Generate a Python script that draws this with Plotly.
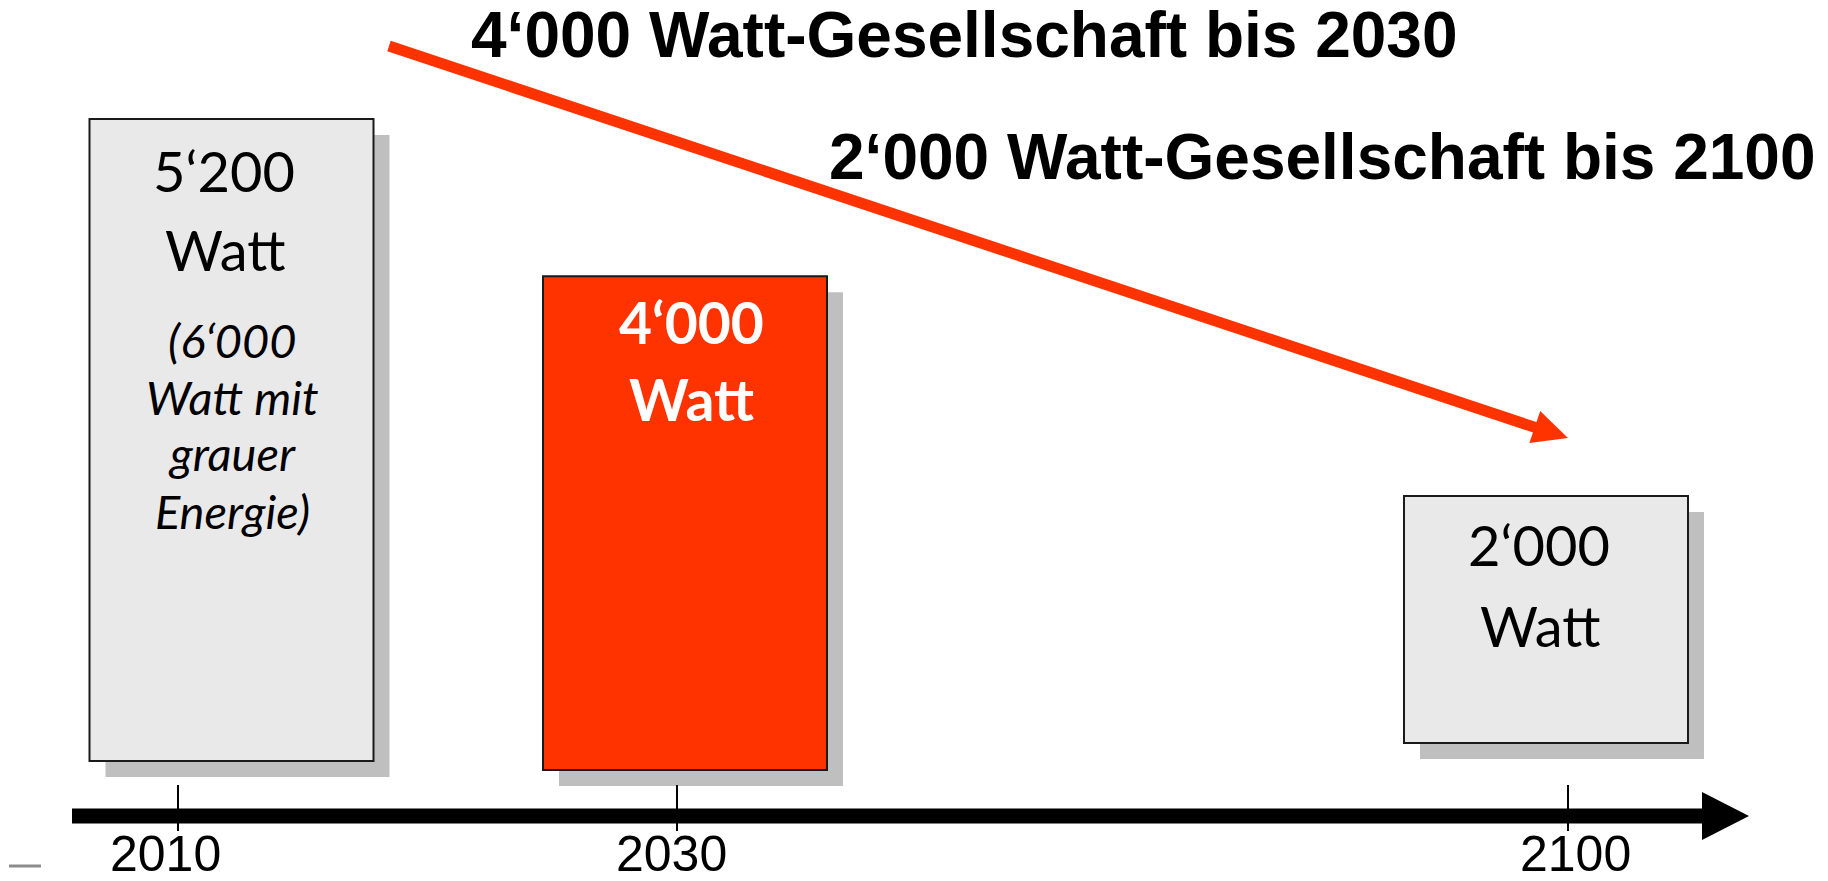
import plotly.graph_objects as go

# ---------------- data ----------------
years = ["2010", "2030", "2100"]
watts = [5200, 4000, 2000]
value_lines = ["5‘200", "4‘000", "2‘000"]
unit_label = "Watt"
note_lines = ["(6‘000", "Watt mit", "grauer", "Energie)"]
titles = ["4‘000 Watt-Gesellschaft bis 2030", "2‘000 Watt-Gesellschaft bis 2100"]
tick_labels = ["2010", "2030", "2100"]

# ---------------- layout constants (pixels of the 1828x881 canvas) ----------------
W, H = 1828, 881
K = 0.12346                 # px per Watt (vertical scale)
AXIS_PX = 816               # vertical pixel of the timeline (Watt 0 reference)
bar_x = [231.5, 685, 1546]  # bar centres (x axis in px units)
bar_w = 284
bar_bottom_px = [761, 770, 743]
shadow_dx = 16
shadow_dy = 16
tick_x = [178, 677, 1568]
tick_label_x = [165, 671, 1575]
TICK_LABEL_Y = 854

fill_cols = ["#E9E9E9", "#FF3300", "#E9E9E9"]
text_cols = ["black", "white", "black"]
RED = "#FF3300"


def w_of(px):
    return (AXIS_PX - px) / K


def fx(px):
    return px / W


def fy(px):
    return 1 - px / H


bases = [w_of(b) for b in bar_bottom_px]

fig = go.Figure()

# shadows
fig.add_trace(go.Bar(
    x=[x + shadow_dx for x in bar_x], y=watts,
    base=[b - shadow_dy / K for b in bases],
    width=bar_w, marker=dict(color="#BFBFBF", line=dict(width=0)),
    hoverinfo="skip", showlegend=False))

# boxes
fig.add_trace(go.Bar(
    x=bar_x, y=watts, base=bases, width=bar_w,
    marker=dict(color=fill_cols, line=dict(color="#1a1a1a", width=2)),
    customdata=years, hovertemplate="%{customdata}: %{y} W<extra></extra>",
    showlegend=False))

shapes = []
# timeline arrow
shapes.append(dict(type="line", xref="paper", yref="paper",
                   x0=fx(72), x1=fx(1706), y0=fy(AXIS_PX), y1=fy(AXIS_PX),
                   line=dict(color="black", width=15)))
shapes.append(dict(type="path", xref="paper", yref="paper",
                   path=f"M {fx(1702)},{fy(792)} L {fx(1749)},{fy(AXIS_PX)} L {fx(1702)},{fy(840)} Z",
                   fillcolor="black", line=dict(width=0)))
# little grey dash
shapes.append(dict(type="line", xref="paper", yref="paper",
                   x0=fx(9), x1=fx(41), y0=fy(866), y1=fy(866),
                   line=dict(color="#8C8C8C", width=3)))
# red trend arrow
shapes.append(dict(type="line", xref="paper", yref="paper",
                   x0=fx(389), y0=fy(46), x1=fx(1540), y1=fy(429),
                   line=dict(color=RED, width=11)))
shapes.append(dict(type="path", xref="paper", yref="paper",
                   path=f"M {fx(1568)},{fy(438)} L {fx(1540.2)},{fy(410.9)} L {fx(1529.4)},{fy(443.1)} Z",
                   fillcolor=RED, line=dict(width=0)))

ann = []


def add_text(txt, x, y, size, family, color="black", bold=False, italic=False):
    t = txt
    if bold:
        t = f"<b>{t}</b>"
    if italic:
        t = f"<i>{t}</i>"
    ann.append(dict(text=t, x=fx(x), y=fy(y), xref="paper", yref="paper",
                    xanchor="center", yanchor="middle", showarrow=False,
                    font=dict(size=size, family=family, color=color)))


BOX_FONT = "Lato, Carlito, Calibri, sans-serif"
TITLE_FONT = "Liberation Sans, Arial, sans-serif"

# box 1
add_text(value_lines[0], 224, 171, 56, BOX_FONT, text_cols[0])
add_text(unit_label, 225, 249, 56, BOX_FONT, text_cols[0])
note_y = [340, 397, 453, 511]
for line, y in zip(note_lines, note_y):
    add_text(line, 232, y, 47, BOX_FONT, text_cols[0], italic=True)
# box 2
add_text(value_lines[1], 691, 322, 57, BOX_FONT, text_cols[1], bold=True)
add_text(unit_label, 691, 399, 57, BOX_FONT, text_cols[1], bold=True)
# box 3
add_text(value_lines[2], 1539, 544, 56, BOX_FONT, text_cols[2])
add_text(unit_label, 1540, 625, 56, BOX_FONT, text_cols[2])
# titles
add_text(titles[0], 964, 35, 64, TITLE_FONT, bold=True)
add_text(titles[1], 1322, 157, 64, TITLE_FONT, bold=True)
# timeline labels
for lab, lx in zip(tick_labels, tick_label_x):
    add_text(lab, lx, TICK_LABEL_Y, 50, TITLE_FONT)

fig.update_layout(
    width=W, height=H, template="none",
    margin=dict(l=0, r=0, t=0, b=0, pad=0),
    paper_bgcolor="white", plot_bgcolor="white",
    barmode="overlay", showlegend=False,
    shapes=shapes, annotations=ann,
    xaxis=dict(range=[0, W], showgrid=False, zeroline=False, showline=False,
               tickmode="array", tickvals=tick_x, ticktext=tick_labels,
               showticklabels=False,
               ticks="inside", ticklen=46, tickwidth=1.5, tickcolor="black",
               anchor="free", position=1 - 831 / H, automargin=False,
               fixedrange=True),
    yaxis=dict(range=[w_of(H), w_of(0)], visible=False, showgrid=False,
               zeroline=False, automargin=False, fixedrange=True),
)

fig.write_html("out.html", config={"displayModeBar": False},
               post_script="document.body.style.margin='0';document.body.style.overflow='hidden';")
